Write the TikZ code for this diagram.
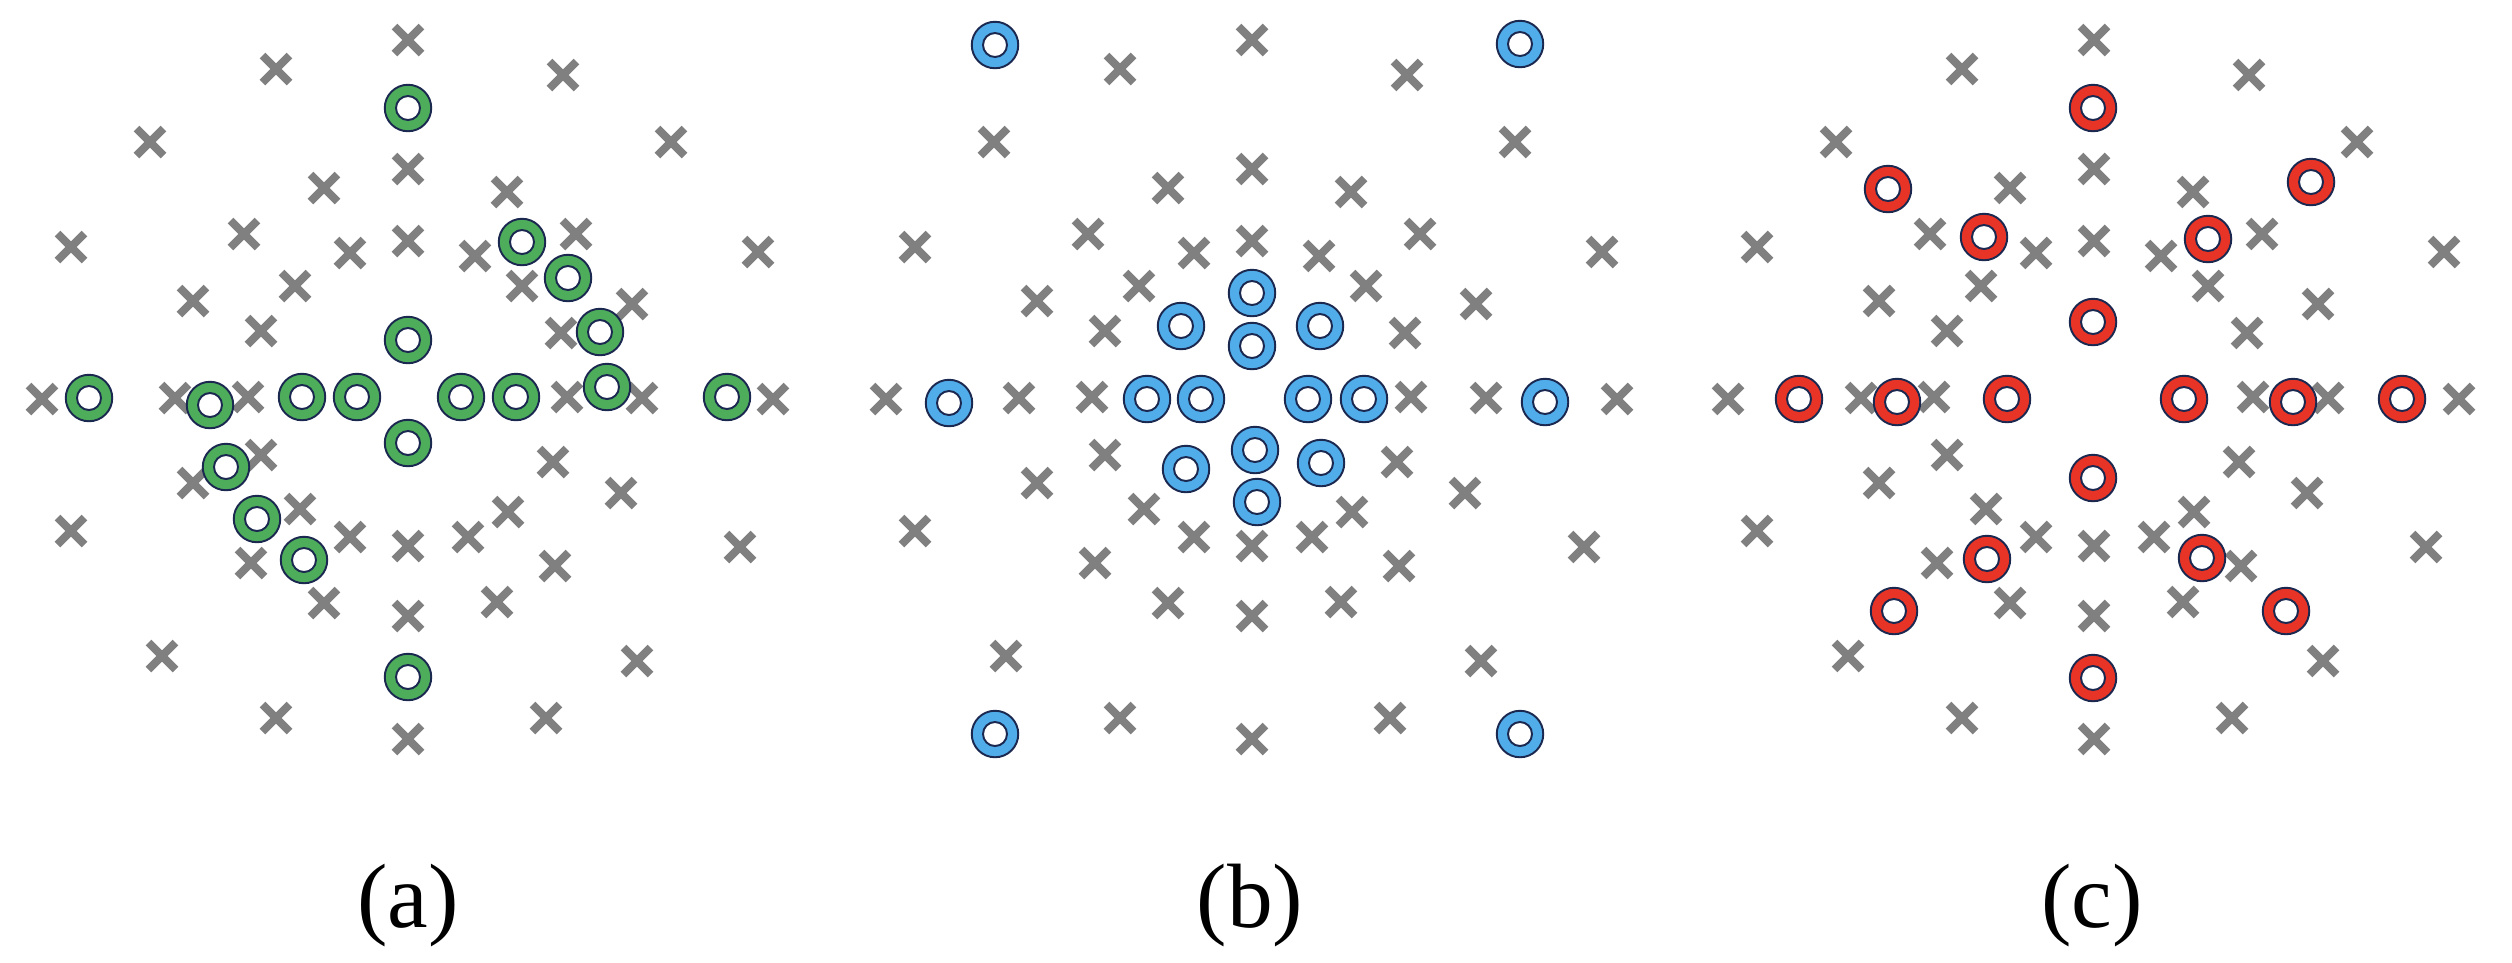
\documentclass[tikz,border=0pt]{standalone}
\usepackage{fontspec}
\setmainfont{Liberation Serif}
\usepackage{tikz}
\usetikzlibrary{shapes.misc}

\definecolor{ringgreen}{RGB}{78,173,91}
\definecolor{ringblue}{RGB}{80,173,234}
\definecolor{ringred}{RGB}{232,52,38}
\definecolor{ringline}{RGB}{27,40,80}
\definecolor{crossgray}{RGB}{128,128,128}

% offsets of the candidate points (same in every panel)
\newcommand{\crosspts}{0/-357, -132/-328, 155/-322, -258/-255, 263/-255, 0/-228,
  -337/-150, 350/-145, -84/-209, 99/-205, -164/-163, 168/-163, 0/-156,
  -58/-144, 67/-141, -113/-111, 114/-111, -215/-96, -147/-66, 153/-64,
  224/-93, -366/2, -233/1, -160/0, 159/0, 234/1, 365/2, -147/58, 145/65,
  -215/86, 213/96, -108/112, 100/115, -58/140, 60/140, 0/149, -157/166,
  147/169, -84/206, 89/205, 0/219, -337/134, 229/264, -246/259, -132/321,
  138/321, 0/342, 332/150}
% selected points of each panel
\newcommand{\selA}{0/-289, 0/-57, 114/-155, 160/-119, 192/-65, 199/-10,
  -319/1, -198/8, -106/0, -51/0, 53/0, 108/0, 319/0, 0/46, -182/70,
  -151/122, -104/163, 0/280}
\newcommand{\selB}{-257/-352, 268/-353, 0/-104, -71/-71, 0/-51, 68/-71,
  -303/6, -105/2, -51/2, 56/2, 112/2, 293/5, 3/53, -66/72, 69/66, 5/105,
  -257/337, 268/337}
\newcommand{\selC}{-1/-289, -206/-208, -110/-160, 217/-215, 114/-158,
  -1/-75, -295/2, -197/5, -87/2, 90/2, 199/5, 308/2, -1/81, -107/162,
  108/161, -200/214, 192/214, -1/281}

\begin{document}
\begin{tikzpicture}[
  x=0.1mm, y=-0.1mm,
  xmark/.style={cross out, draw=crossgray, line width=0.8mm, inner sep=0pt, minimum size=1.9mm},
  ring/.style={circle, draw=ringline, line width=0.55pt, fill=#1, inner sep=0pt, minimum size=4.65mm,
    path picture={\draw[ringline, line width=0.55pt, fill=white] (path picture bounding box.center) circle (1.2mm);}},
  panellabel/.style={font=\fontsize{26}{31}\selectfont}
]
\useasboundingbox (0,0) rectangle (2512,962);

% crosses
\foreach \cx/\pn in {408/a, 1252/b, 2094/c}
  \foreach \dx/\dy [count=\i] in \crosspts
    \node[xmark] (x\pn\i) at ({\cx+\dx},{397+\dy}) {};

% selected points
\foreach \dx/\dy [count=\i] in \selA
  \node[ring=ringgreen] (sa\i) at ({408+\dx},{397+\dy}) {};
\foreach \dx/\dy [count=\i] in \selB
  \node[ring=ringblue] (sb\i) at ({1252+\dx},{397+\dy}) {};
\foreach \dx/\dy [count=\i] in \selC
  \node[ring=ringred] (sc\i) at ({2094+\dx},{397+\dy}) {};

\node[panellabel] (la) at (408,905) {(a)};
\node[panellabel] (lb) at (1250,905) {(b)};
\node[panellabel] (lc) at (2092,905) {(c)};
\end{tikzpicture}
\end{document}
